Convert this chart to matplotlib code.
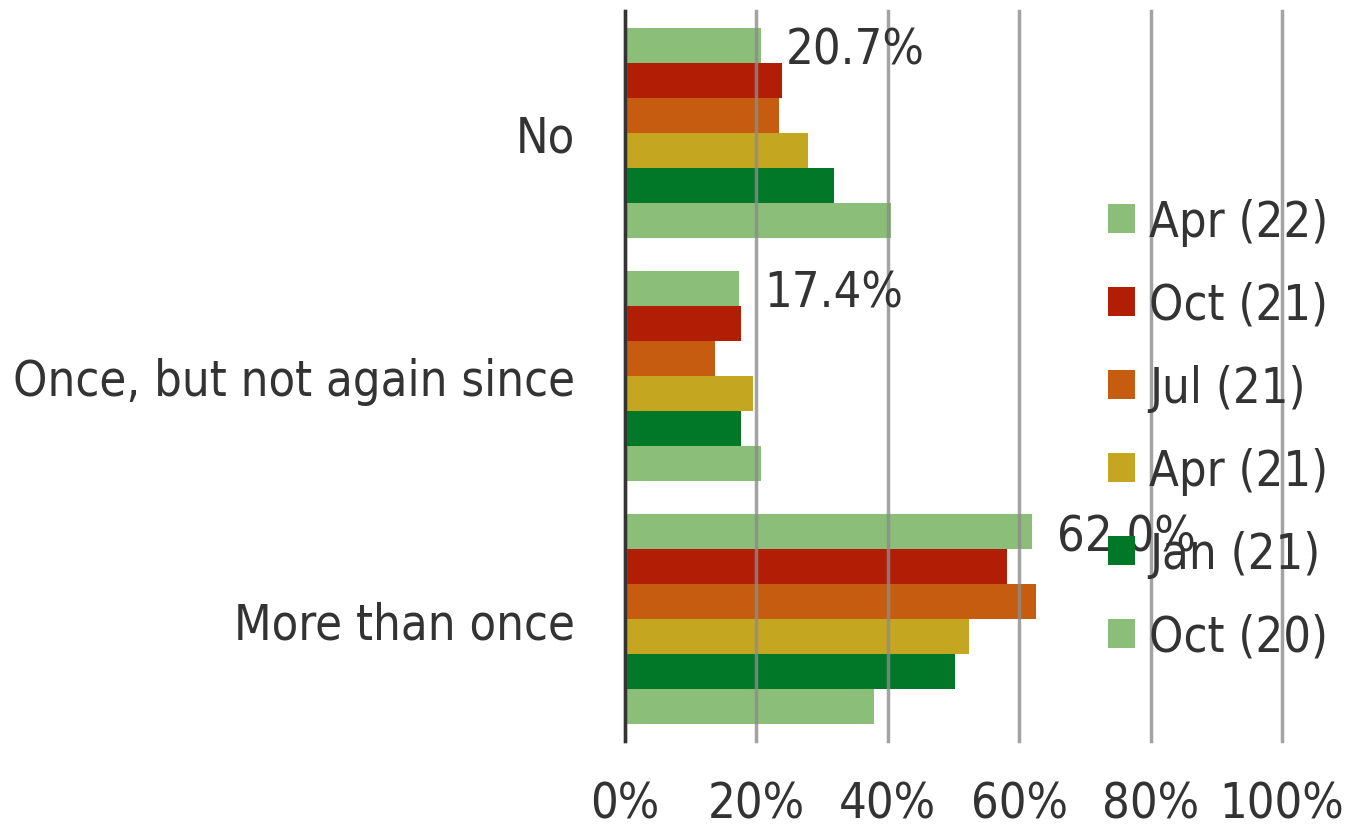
import numpy as np
import matplotlib.pyplot as plt
from matplotlib.patches import Patch

# survey answers, top to bottom
categories = ["No", "Once, but not again since", "More than once"]
waves = ["Apr (22)", "Oct (21)", "Jul (21)", "Apr (21)", "Jan (21)", "Oct (20)"]
colors = ["#8bbe78", "#b21e05", "#c65c0f", "#c4a621", "#007828", "#8bbe78"]

# share of respondents (%) per wave, one list per wave
apr22 = [20.7, 17.4, 62.0]
oct21 = [23.9, 17.7, 58.1]
jul21 = [23.4, 13.7, 62.6]
apr21 = [27.9, 19.5, 52.4]
jan21 = [31.8, 17.7, 50.2]
oct20 = [40.5, 20.7, 37.9]
series = [apr22, oct21, jul21, apr21, jan21, oct20]

label_wave = 0  # only the latest wave gets value labels

txt = "#333333"
font = dict(family="DejaVu Sans", stretch="condensed")
fs = 35

fig = plt.figure(figsize=(13.49, 8.29), dpi=100)
ax = fig.add_axes([625 / 1349, 1 - 742 / 829, (1282 - 625) / 1349, 730 / 829])

group_w = 0.862
bar_h = group_w / len(series)
ypos = np.arange(len(categories))

for i, vals in enumerate(series):
    y = ypos - group_w / 2 + (i + 0.5) * bar_h
    bars = ax.barh(y, vals, height=bar_h, color=colors[i], label=waves[i], zorder=2)
    if i == label_wave:
        for b, v in zip(bars, vals):
            ax.annotate("%.1f%%" % v, (b.get_width(), b.get_y() + b.get_height() / 2),
                        xytext=(18, -3), textcoords="offset points", va="center", ha="left",
                        color=txt, fontsize=fs, zorder=5, **font)

ax.set_xlim(0, 100)
ax.set_ylim(2.5, -0.5)
ax.set_xticks([0, 20, 40, 60, 80, 100])
ax.set_xticklabels(["0%", "20%", "40%", "60%", "80%", "100%"])
ax.set_yticks(ypos)
ax.set_yticklabels(categories)
for lab in ax.get_xticklabels() + ax.get_yticklabels():
    lab.set_fontfamily("DejaVu Sans")
    lab.set_fontstretch("condensed")
    lab.set_fontsize(fs)
    lab.set_color(txt)
ax.tick_params(axis="x", length=0, pad=28)
ax.tick_params(axis="y", length=0, pad=36)

ax.grid(axis="x", color="#8c8c8c", linewidth=2.5, alpha=0.8, zorder=3)
for gl in ax.get_xgridlines():
    gl.set_clip_on(False)
ax.set_axisbelow(False)
for s in ["top", "right", "bottom"]:
    ax.spines[s].set_visible(False)
ax.spines["left"].set_color("#333333")
ax.spines["left"].set_linewidth(2.5)
ax.spines["left"].set_zorder(4)

handles = [Patch(facecolor=c, edgecolor="none") for c in colors]
leg = ax.legend(handles, waves, loc="upper left", bbox_to_anchor=(1108 / 1349, 1 - 199 / 829),
                bbox_transform=fig.transFigure, frameon=False,
                prop=dict(family="DejaVu Sans", stretch="condensed", size=fs),
                handlelength=0.55, handleheight=0.55, handletextpad=0.3, labelspacing=0.72,
                borderpad=0, borderaxespad=0)
for t in leg.get_texts():
    t.set_color(txt)
leg.set_zorder(10)

fig.savefig("out.png", dpi=100)
